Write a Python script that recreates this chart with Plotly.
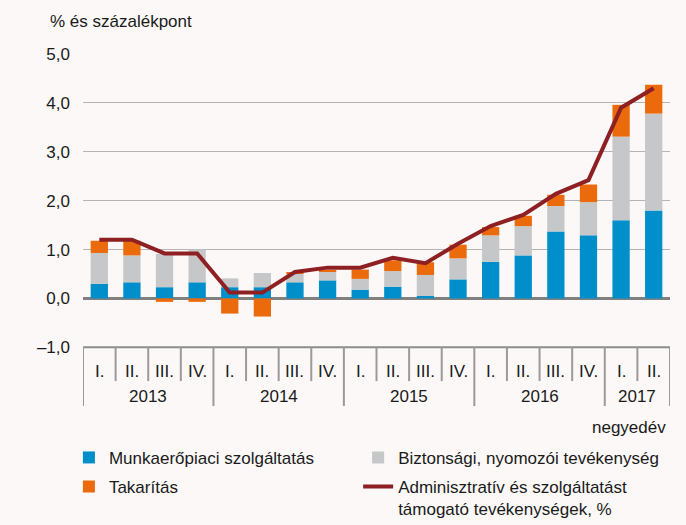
import plotly.graph_objects as go

# Quarters and years on the category axis
quarters = ['I.', 'II.', 'III.', 'IV.'] * 4 + ['I.', 'II.']
years = ['2013', '2014', '2015', '2016', '2017']
year_quarters = [4, 4, 4, 4, 2]

# Contributions, % and percentage points
munkaero = [0.30, 0.33, 0.23, 0.33, 0.23, 0.23, 0.33, 0.37, 0.18,
            0.24, 0.05, 0.39, 0.75, 0.88, 1.37, 1.29, 1.60, 1.80]
biztonsagi = [0.63, 0.55, 0.68, 0.67, 0.18, 0.29, 0.17, 0.19, 0.22,
              0.32, 0.43, 0.43, 0.54, 0.60, 0.52, 0.68, 1.71, 1.98]
takaritas = [0.25, 0.30, -0.07, -0.07, -0.31, -0.37, 0.04, 0.02, 0.19,
             0.22, 0.26, 0.28, 0.17, 0.21, 0.23, 0.36, 0.65, 0.59]
adminisztrativ = [1.20, 1.20, 0.92, 0.92, 0.12, 0.12, 0.54, 0.63, 0.63,
                  0.83, 0.72, 1.12, 1.48, 1.71, 2.14, 2.42, 3.90, 4.30]

y_ticks = [-1, 0, 1, 2, 3, 4, 5]
y_ticktext = ['\u20131,0', '0,0', '1,0', '2,0', '3,0', '4,0', '5,0']

FONT = 'Liberation Sans, Arial, sans-serif'
BG = '#FBF8F7'
AXIS_GRAY = '#8C8C8C'
TEXT = '#1A1A1A'

x = list(range(len(quarters)))

fig = go.Figure()

# Stacked bars
fig.add_trace(go.Bar(x=x, y=munkaero, name='Munkaerőpiaci szolgáltatás', legend='legend',
                     marker=dict(color='#008FCB', line=dict(width=0)), width=0.53))
fig.add_trace(go.Bar(x=x, y=biztonsagi, name='Biztonsági, nyomozói tevékenység', legend='legend2',
                     marker=dict(color='#C6C7C9', line=dict(width=0)), width=0.53))
fig.add_trace(go.Bar(x=x, y=takaritas, name='Takarítás', legend='legend3',
                     marker=dict(color='#EA6A0C', line=dict(width=0)), width=0.53))

# Total growth line
fig.add_trace(go.Scatter(x=x, y=adminisztrativ, mode='lines', legend='legend4',
                         name='Adminisztratív és szolgáltatást<br>támogató tevékenységek, %',
                         line=dict(color='#8E1F22', width=4)))

# Category "table" below the plot: top line, separators and labels
shapes = [dict(type='line', xref='x', yref='y', x0=-0.5, x1=len(x) - 0.5,
               y0=-1, y1=-1, line=dict(color=AXIS_GRAY, width=2))]
year_edges = [-0.5]
for n in year_quarters:
    year_edges.append(year_edges[-1] + n)
for i in range(len(x) + 1):
    edge = i - 0.5
    depth = -2.2 if edge in year_edges else -1.69
    shapes.append(dict(type='line', xref='x', yref='y', x0=edge, x1=edge,
                       y0=-1, y1=depth, line=dict(color='#9A9A9A', width=2)))

annotations = []
for i, q in enumerate(quarters):
    annotations.append(dict(x=i, y=-1.49, xref='x', yref='y', text=q,
                            showarrow=False, font=dict(size=17, color=TEXT)))
for k, yr in enumerate(years):
    center = (year_edges[k] + year_edges[k + 1]) / 2
    annotations.append(dict(x=center, y=-2.0, xref='x', yref='y', text=yr,
                            showarrow=False, font=dict(size=17, color=TEXT)))

annotations.append(dict(x=0.997, y=-0.06, xref='paper', yref='paper', text='negyedév',
                        xanchor='right', yanchor='middle', showarrow=False,
                        font=dict(size=17, color=TEXT)))
annotations.append(dict(x=-0.0596, y=1.088, xref='paper', yref='paper',
                        text='% és százalékpont', xanchor='left', yanchor='middle',
                        showarrow=False, font=dict(size=17, color=TEXT)))

legend_style = dict(orientation='h', xanchor='left', yanchor='top', valign='top',
                    bgcolor='rgba(0,0,0,0)', font=dict(size=17, color=TEXT))

fig.update_layout(
    width=686, height=525,
    margin=dict(l=83, r=16, t=53, b=119, autoexpand=False),
    barmode='relative',
    paper_bgcolor=BG, plot_bgcolor=BG,
    font=dict(family=FONT, size=17, color=TEXT),
    xaxis=dict(range=[-0.5, len(x) - 0.5], showticklabels=False, showgrid=False,
               zeroline=False, showline=False, fixedrange=True),
    yaxis=dict(range=[-2.2, 5.02], tickvals=y_ticks, ticktext=y_ticktext,
               showgrid=True, gridcolor='#B4B4B4', gridwidth=1.2,
               zeroline=True, zerolinecolor='#808080', zerolinewidth=2.5,
               showline=False, ticks='', ticklabelstandoff=12, fixedrange=True),
    showlegend=True,
    legend=dict(x=-0.024, y=-0.096, **legend_style),
    legend2=dict(x=0.4687, y=-0.096, **legend_style),
    legend3=dict(x=-0.024, y=-0.178, **legend_style),
    legend4=dict(x=0.4687, y=-0.178, **legend_style),
    shapes=shapes,
    annotations=annotations,
)

fig.write_html("out.html", config={'displayModeBar': False},
               post_script="document.body.style.margin='0';")
